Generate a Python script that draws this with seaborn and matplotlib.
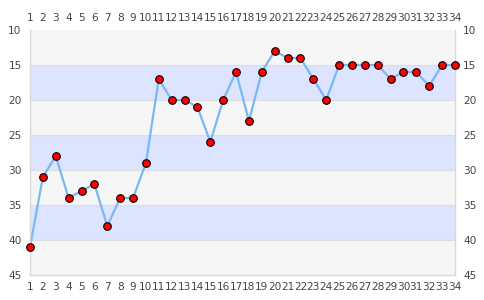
import matplotlib
matplotlib.use("Agg")
import matplotlib.pyplot as plt
import seaborn as sns
import pandas as pd

x_vals = list(range(1, 35))
y_vals = [41, 31, 28, 34, 33, 32, 38, 34, 34, 29,
          17, 20, 20, 21, 26, 20, 16, 23, 16, 13,
          14, 14, 17, 20, 15, 15, 15, 15, 17, 16,
          16, 18, 15, 15]
y_ticks = [10, 15, 20, 25, 30, 35, 40, 45]

sns.set_style("white")
plt.rcParams['font.family'] = ['DejaVu Sans']

df = pd.DataFrame({"x": x_vals, "y": y_vals})

fig = plt.figure(figsize=(4.85, 3.0), dpi=100)
ax = fig.add_axes([30/485, 1 - 275/300, 425/485, 245/300])

band_colors = ["#f6f6f6", "#dde4ff"]
for i in range(len(y_ticks) - 1):
    ax.axhspan(y_ticks[i], y_ticks[i + 1], color=band_colors[i % 2], zorder=0, lw=0)
for t in y_ticks[1:-1]:
    ax.axhline(t, color="#dddddd", lw=0.8, zorder=1)

sns.lineplot(data=df, x="x", y="y", ax=ax, color="#7ab8f5", lw=1.6, zorder=2)
sns.scatterplot(data=df, x="x", y="y", ax=ax, color="#ff0000", edgecolor="#000000",
                linewidth=0.8, s=30, zorder=3, clip_on=False)

ax.set_xlim(1, 34)
ax.set_ylim(45, 10)
ax.set_xticks(x_vals)
ax.set_yticks(y_ticks)
ax.set_xlabel("")
ax.set_ylabel("")
ax.tick_params(axis="both", which="both", length=0, labelsize=7.6, colors="#444444", pad=6)
ax.tick_params(axis="x", top=True, labeltop=True, bottom=True, labelbottom=True, pad=5)
ax.tick_params(axis="y", right=True, labelright=True, left=True, labelleft=True)

for s in ["left", "bottom", "right"]:
    ax.spines[s].set_color("#d8d8d8")
    ax.spines[s].set_linewidth(1)
ax.spines["top"].set_visible(False)

fig.savefig("out.png", dpi=100)
